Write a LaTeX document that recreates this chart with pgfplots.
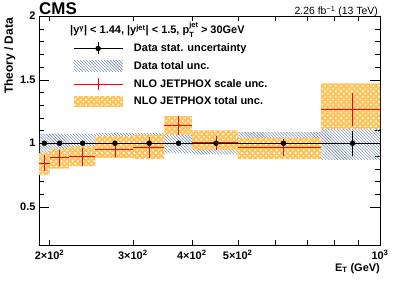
\documentclass[border=0pt]{standalone}
\usepackage{fontspec}
\setmainfont{Liberation Sans}
\usepackage{pgfplots}
\pgfplotsset{compat=1.18}
\usepgfplotslibrary{fillbetween}
\usetikzlibrary{patterns,patterns.meta}
\definecolor{hatchc}{RGB}{95,120,160}
\definecolor{orangec}{RGB}{255,195,90}
\definecolor{redc}{RGB}{255,0,0}
\tikzset{
  datahatch/.style={pattern=north west lines, pattern color=hatchc},
  orangedots/.style={pattern={Dots[angle=45, distance=3.8bp, radius=1.1bp]}, pattern color=white},
}
\begin{document}
\begin{tikzpicture}
\begin{axis}[
  at={(39bp,37bp)}, anchor=south west,
  width=341bp, height=229bp, scale only axis,
  xmode=log, xmin=190, xmax=1000, ymin=0.2, ymax=2,
  xtick={200,300,400,500,600,700,800,900,1000},
  xticklabels={2×10\textsuperscript{2},3×10\textsuperscript{2},4×10\textsuperscript{2},5×10\textsuperscript{2},,,,,10\textsuperscript{3}},
  ytick={0.5,1,1.5,2}, yticklabels={0.5,1,1.5,2},
  minor y tick num=4,
  tick align=inside,
  xtick style={/pgfplots/major tick length=5bp, black},
  ytick style={/pgfplots/major tick length=10bp, /pgfplots/minor tick length=5bp, black},
  ticklabel style={font=\bfseries\fontsize{11}{12}\selectfont},
  xticklabel style={yshift=-1.5bp},
  axis line style={line width=0.9bp},
  xlabel={E\textsubscript{T} (GeV)},
  xlabel style={at={(axis description cs:1,0)}, anchor=north east, inner sep=0pt, yshift=-18bp, font=\bfseries\fontsize{11}{12}\selectfont},
  ylabel={Theory / Data},
  ylabel style={at={(axis description cs:-0.1026,0.991)}, anchor=north east, inner sep=0pt, font=\bfseries\fontsize{12}{13}\selectfont},
  legend style={at={(axis description cs:0.0997,0.887)}, anchor=north west, draw=none, fill=none, inner sep=0pt,
    row sep=5.9bp, column sep=11bp, font=\bfseries\fontsize{11}{12}\selectfont,
    nodes={inner sep=0pt, text height=8bp, text depth=2bp}},
  legend cell align=left,
]
% data total uncertainty band
\addplot[name path=dtlo, draw=none, const plot mark left, forget plot] coordinates
 {(190,0.925)(200,0.925)(220,0.925)(250,0.92)(300,0.92)(350,0.92)(400,0.912)(500,0.912)(750,0.87)(1000,0.87)};
\addplot[name path=dthi, draw=none, const plot mark left, forget plot] coordinates
 {(190,1.075)(200,1.075)(220,1.075)(250,1.08)(300,1.08)(350,1.08)(400,1.088)(500,1.088)(750,1.13)(1000,1.13)};
\addplot[datahatch, draw=none, forget plot] fill between[of=dthi and dtlo];
% theory total uncertainty band
\addplot[name path=thlo, draw=none, const plot mark left, forget plot] coordinates
 {(190,0.75)(200,0.80)(220,0.82)(250,0.885)(300,0.875)(350,1.065)(400,0.95)(500,0.875)(750,1.113)(1000,1.113)};
\addplot[name path=thhi, draw=none, const plot mark left, forget plot] coordinates
 {(190,0.925)(200,0.955)(220,0.975)(250,1.055)(300,1.065)(350,1.213)(400,1.10)(500,1.04)(750,1.47)(1000,1.47)};
\addplot[fill=orangec, draw=none, forget plot] fill between[of=thhi and thlo];
\addplot[orangedots, draw=none, forget plot] fill between[of=thhi and thlo];
% data
\addplot[black, only marks, mark=*, mark size=2.5bp, forget plot,
  error bars/.cd, x dir=both, x explicit, y dir=both, y explicit, error mark=none,
  error bar style={black, line width=0.8bp}]
 table[x=x, y=y, x error=ex, y error=ey] {
 x y ex ey
 195 1 5 0.008
 210 1 10 0.008
 235 1 15 0.008
 275 1 25 0.008
 325 1 25 0.008
 375 1 25 0.008
 450 1 50 0.02
 625 1 125 0.03
 875 1 125 0.097
 };
% theory scale unc
\addplot[redc, only marks, mark=*, mark size=0.01bp, forget plot,
  error bars/.cd, x dir=both, x explicit, y dir=both, y explicit, error mark=none,
  error bar style={redc, line width=0.8bp}]
 table[x=x, y=y, x error=ex, y error=ey] {
 x y ex ey
 195 0.843 5 0.063
 210 0.885 10 0.062
 235 0.893 15 0.073
 275 0.950 25 0.060
 325 0.965 25 0.080
 375 1.140 25 0.077
 450 1.005 50 0.055
 625 0.965 125 0.062
 875 1.266 125 0.127
 };
\addlegendimage{legend image code/.code={
  \draw[black,line width=0.8bp] (0bp,0bp)--(49bp,0bp);
  \draw[black,line width=0.8bp] (24.5bp,-6bp)--(24.5bp,6bp);
  \fill[black] (24.5bp,0bp) circle (2.5bp);}}
\addlegendentry{Data stat. uncertainty}
\addlegendimage{legend image code/.code={
  \path[datahatch, draw=none] (0bp,-5.5bp) rectangle (49bp,5.5bp);}}
\addlegendentry{Data total unc.}
\addlegendimage{legend image code/.code={
  \draw[redc,line width=0.8bp] (0bp,0bp)--(49bp,0bp);
  \draw[redc,line width=0.8bp] (24.5bp,-6bp)--(24.5bp,6bp);}}
\addlegendentry{NLO JETPHOX scale unc.}
\addlegendimage{legend image code/.code={
  \path[fill=orangec, draw=none] (0bp,-5.5bp) rectangle (49bp,5.5bp);
  \path[orangedots, draw=none] (0bp,-5.5bp) rectangle (49bp,5.5bp);}}
\addlegendentry{NLO JETPHOX total unc.}
\end{axis}
\node[anchor=base west, inner sep=0pt, font=\bfseries\fontsize{17}{18}\selectfont] at (39bp,267bp) {CMS};
\node[anchor=base east, inner sep=0pt, font=\fontsize{10.5}{12}\selectfont] at (378bp,267bp) {2.26 fb\textsuperscript{−1} (13 TeV)};
\node[anchor=base west, inner sep=0pt, font=\bfseries\fontsize{11}{12}\selectfont] at (70bp,248bp)
 {|y\textsuperscript{γ}| < 1.44, |y\textsuperscript{jet}| < 1.5, p\makebox[0pt][l]{\raisebox{-0.3em}{\fontsize{7.5}{8}\selectfont T}}\raisebox{0.55em}{\fontsize{7.5}{8}\selectfont jet} > 30GeV};
\path (0,0) rectangle (399bp,282bp);
\end{tikzpicture}
\end{document}
